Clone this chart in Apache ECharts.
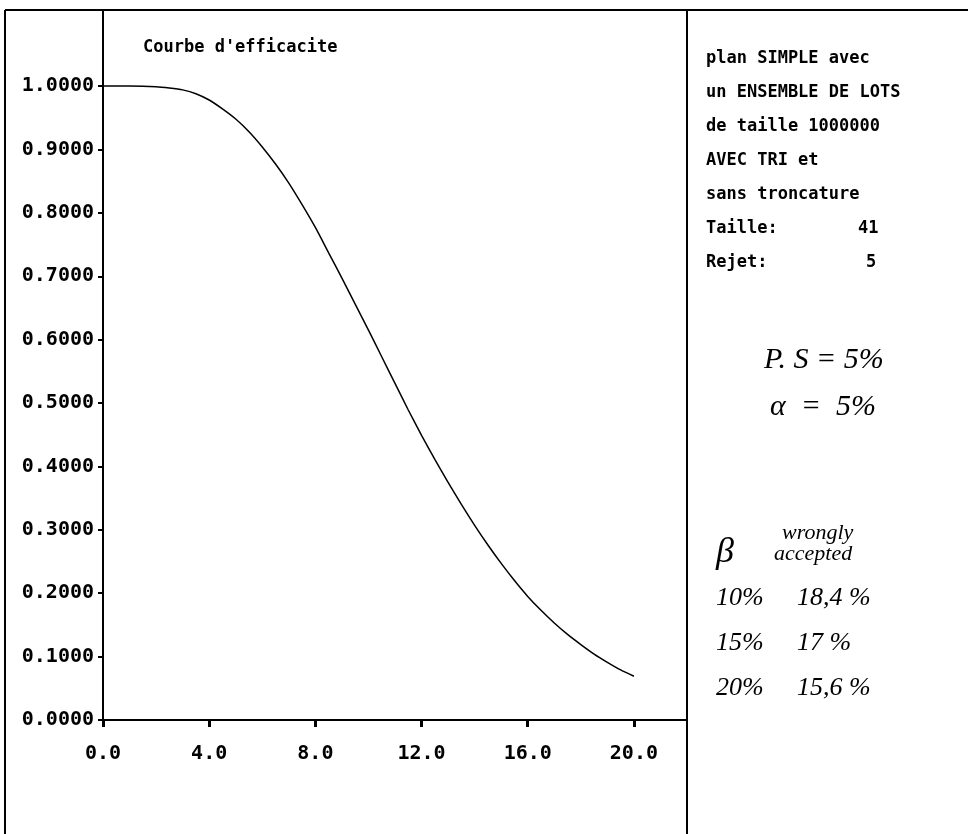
<!DOCTYPE html>
<html>
<head>
<meta charset="utf-8">
<script src="https://cdn.jsdelivr.net/npm/echarts@6/dist/echarts.min.js"></script>
<style>
  html, body { margin: 0; padding: 0; background: #fff; }
  #main { width: 968px; height: 834px; }
</style>
</head>
<body>
<div id="main"></div>
<script>
// courbe d'efficacite : valeurs
var pct = [0, 1, 2, 2.5, 3, 3.5, 4, 4.5, 5, 5.5, 6, 6.5, 7, 7.5, 8, 8.5, 9, 9.5, 10, 10.5, 11, 11.5, 12, 12.5, 13, 13.5, 14, 14.5, 15, 15.5, 16, 16.5, 17, 17.5, 18, 18.5, 19, 19.5, 20];
var proba = [1.000, 1.000, 0.999, 0.997, 0.994, 0.988, 0.978, 0.964, 0.948, 0.928, 0.904, 0.877, 0.847, 0.813, 0.777, 0.737, 0.697, 0.656, 0.615, 0.573, 0.531, 0.489, 0.449, 0.411, 0.375, 0.340, 0.307, 0.276, 0.247, 0.220, 0.195, 0.173, 0.153, 0.135, 0.119, 0.104, 0.091, 0.079, 0.069];
var xTicks = [0, 4, 8, 12, 16, 20];
var yTicks = [0, 0.1, 0.2, 0.3, 0.4, 0.5, 0.6, 0.7, 0.8, 0.9, 1.0];

var infoLines = ['plan SIMPLE avec', 'un ENSEMBLE DE LOTS', 'de taille 1000000', 'AVEC TRI et', 'sans troncature', 'Taille:', 'Rejet:'];
var infoValues = ['41', '5'];
var betaRows = ['10%', '15%', '20%'];
var wronglyRows = ['18,4 %', '17 %', '15,6 %'];

var mono = 'DejaVu Sans Mono';
var hand = 'Liberation Serif';

var pts = [];
for (var i = 0; i < pct.length; i++) {
  pts.push([pct[i], proba[i]]);
}

var graphics = [
  // cadre
  { type: 'line', shape: { x1: 5, y1: 10, x2: 968, y2: 10 }, style: { stroke: '#000', lineWidth: 2 } },
  { type: 'line', shape: { x1: 5, y1: 10, x2: 5, y2: 834 }, style: { stroke: '#000', lineWidth: 2 } },
  { type: 'line', shape: { x1: 687, y1: 10, x2: 687, y2: 834 }, style: { stroke: '#000', lineWidth: 2 } }
];
for (var j = 0; j < infoLines.length; j++) {
  graphics.push({ type: 'text', left: 706, top: 50 + j * 34,
    style: { text: infoLines[j], font: 'bold 17px ' + mono, fill: '#000' } });
}
graphics.push({ type: 'text', left: 858, top: 50 + 5 * 34, style: { text: infoValues[0], font: 'bold 17px ' + mono, fill: '#000' } });
graphics.push({ type: 'text', left: 866, top: 50 + 6 * 34, style: { text: infoValues[1], font: 'bold 17px ' + mono, fill: '#000' } });
// notes manuscrites
graphics.push({ type: 'text', left: 764, top: 345, style: { text: 'P. S = 5%', font: 'italic 30px ' + hand, fill: '#000' } });
graphics.push({ type: 'text', left: 770, top: 392, style: { text: 'α  =  5%', font: 'italic 30px ' + hand, fill: '#000' } });
graphics.push({ type: 'text', left: 716, top: 535, style: { text: 'β', font: 'italic 36px ' + hand, fill: '#000' } });
graphics.push({ type: 'text', left: 782, top: 522, style: { text: 'wrongly', font: 'italic 22px ' + hand, fill: '#000' } });
graphics.push({ type: 'text', left: 774, top: 543, style: { text: 'accepted', font: 'italic 22px ' + hand, fill: '#000' } });
for (var k = 0; k < betaRows.length; k++) {
  graphics.push({ type: 'text', left: 716, top: 585 + k * 45, style: { text: betaRows[k], font: 'italic 26px ' + hand, fill: '#000' } });
  graphics.push({ type: 'text', left: 797, top: 585 + k * 45, style: { text: wronglyRows[k], font: 'italic 26px ' + hand, fill: '#000' } });
}

var myChart = echarts.init(document.getElementById('main'));
myChart.setOption({
  backgroundColor: '#fff',
  animation: false,
  title: {
    text: "Courbe d'efficacite",
    left: 138, top: 34,
    textStyle: { fontFamily: mono, fontWeight: 'bold', fontSize: 17, color: '#000' }
  },
  grid: { left: 103, right: 281, top: 10, bottom: 114 },
  xAxis: {
    type: 'value', min: 0, max: 22,
    splitLine: { show: false },
    axisLine: { lineStyle: { color: '#000', width: 2 } },
    axisTick: { customValues: xTicks, length: 7, lineStyle: { color: '#000', width: 3 } },
    axisLabel: {
      customValues: xTicks, margin: 24, color: '#000',
      fontFamily: mono, fontWeight: 'bold', fontSize: 20,
      formatter: function (v) { return v.toFixed(1); }
    }
  },
  yAxis: {
    type: 'value', min: 0, max: 1.12,
    splitLine: { show: false },
    axisLine: { show: true, lineStyle: { color: '#000', width: 2 } },
    axisTick: { show: true, customValues: yTicks, length: 5, lineStyle: { color: '#000', width: 2 } },
    axisLabel: {
      customValues: yTicks, margin: 9, color: '#000',
      fontFamily: mono, fontWeight: 'bold', fontSize: 20,
      formatter: function (v) { return v.toFixed(4); }
    }
  },
  series: [{
    type: 'line',
    data: pts,
    smooth: 0.2,
    showSymbol: false,
    lineStyle: { color: '#000', width: 1.5 }
  }],
  graphic: graphics
});
</script>
</body>
</html>
